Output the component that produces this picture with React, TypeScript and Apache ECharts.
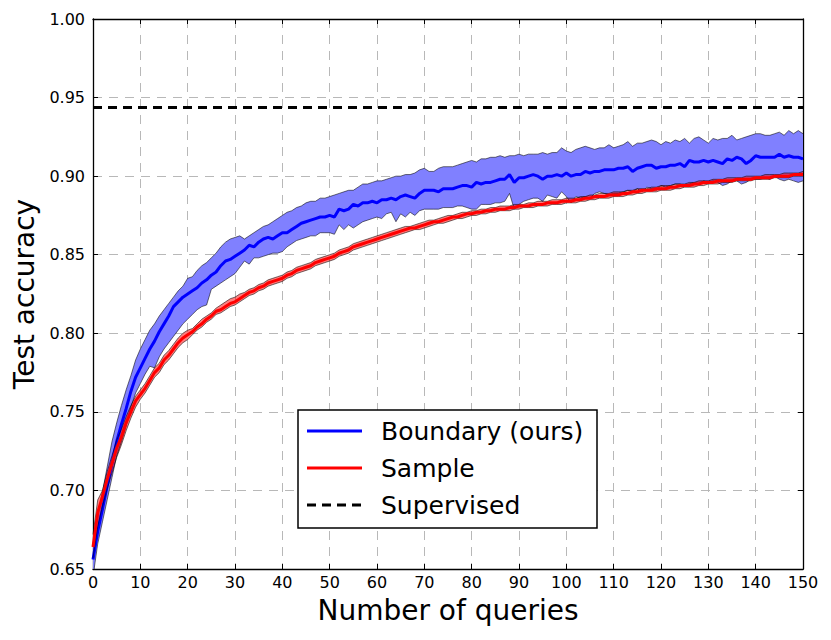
import React, { useEffect, useRef } from "react";
import * as echarts from "echarts";

const queries: number[] = Array.from({ length: 151 }, (_, i) => i);
const yTicks = [0.65, 0.7, 0.75, 0.8, 0.85, 0.9, 0.95, 1.0];
const supervisedAcc = 0.944;

const boundaryMean = [
  0.656, 0.674, 0.688, 0.703, 0.717, 0.731, 0.742, 0.752, 0.763, 0.772,
  0.778, 0.784, 0.790, 0.795, 0.801, 0.806, 0.811, 0.817, 0.820, 0.823,
  0.825, 0.827, 0.829, 0.832, 0.834, 0.837, 0.839, 0.843, 0.846, 0.847,
  0.849, 0.851, 0.853, 0.856, 0.855, 0.858, 0.860, 0.861, 0.860, 0.862,
  0.864, 0.864, 0.866, 0.868, 0.870, 0.871, 0.872, 0.873, 0.874, 0.874,
  0.875, 0.874, 0.879, 0.878, 0.879, 0.882, 0.881, 0.883, 0.883, 0.884,
  0.883, 0.885, 0.885, 0.886, 0.885, 0.887, 0.888, 0.887, 0.886, 0.889,
  0.891, 0.891, 0.891, 0.890, 0.892, 0.892, 0.892, 0.893, 0.894, 0.894,
  0.893, 0.896, 0.895, 0.896, 0.896, 0.897, 0.898, 0.898, 0.901, 0.896,
  0.899, 0.899, 0.900, 0.901, 0.900, 0.898, 0.900, 0.900, 0.901, 0.900,
  0.902, 0.900, 0.901, 0.901, 0.903, 0.902, 0.903, 0.903, 0.904, 0.904,
  0.904, 0.905, 0.905, 0.906, 0.903, 0.905, 0.906, 0.907, 0.907, 0.905,
  0.906, 0.906, 0.907, 0.907, 0.908, 0.906, 0.910, 0.909, 0.909, 0.910,
  0.909, 0.910, 0.909, 0.908, 0.911, 0.910, 0.912, 0.911, 0.908, 0.910,
  0.913, 0.912, 0.912, 0.912, 0.912, 0.914, 0.912, 0.913, 0.912, 0.912,
  0.911,
];

const boundaryUpper = [
  0.666, 0.684, 0.699, 0.715, 0.731, 0.743, 0.754, 0.764, 0.773, 0.783,
  0.790, 0.796, 0.802, 0.806, 0.811, 0.815, 0.819, 0.823, 0.827, 0.830,
  0.835, 0.836, 0.840, 0.843, 0.845, 0.848, 0.851, 0.855, 0.858, 0.860,
  0.861, 0.862, 0.860, 0.862, 0.864, 0.866, 0.868, 0.869, 0.871, 0.873,
  0.875, 0.877, 0.878, 0.880, 0.881, 0.883, 0.884, 0.884, 0.886, 0.886,
  0.887, 0.888, 0.889, 0.890, 0.891, 0.891, 0.893, 0.895, 0.895, 0.896,
  0.897, 0.897, 0.898, 0.899, 0.900, 0.900, 0.901, 0.901, 0.902, 0.904,
  0.905, 0.903, 0.903, 0.905, 0.906, 0.906, 0.906, 0.907, 0.908, 0.909,
  0.910, 0.909, 0.911, 0.911, 0.912, 0.912, 0.913, 0.912, 0.913, 0.913,
  0.914, 0.913, 0.914, 0.914, 0.914, 0.915, 0.914, 0.915, 0.915, 0.918,
  0.916, 0.915, 0.917, 0.918, 0.919, 0.918, 0.917, 0.918, 0.918, 0.920,
  0.918, 0.919, 0.920, 0.922, 0.919, 0.921, 0.921, 0.922, 0.923, 0.922,
  0.920, 0.922, 0.921, 0.923, 0.922, 0.924, 0.921, 0.924, 0.925, 0.923,
  0.921, 0.924, 0.923, 0.924, 0.924, 0.926, 0.923, 0.924, 0.925, 0.926,
  0.927, 0.927, 0.926, 0.926, 0.927, 0.928, 0.926, 0.929, 0.927, 0.929,
  0.927,
];

const boundaryLower = [
  0.645, 0.666, 0.680, 0.694, 0.708, 0.722, 0.731, 0.741, 0.753, 0.762,
  0.768, 0.774, 0.779, 0.778, 0.785, 0.790, 0.794, 0.798, 0.802, 0.806,
  0.809, 0.812, 0.815, 0.817, 0.818, 0.828, 0.830, 0.832, 0.834, 0.836,
  0.838, 0.842, 0.846, 0.844, 0.848, 0.848, 0.849, 0.850, 0.851, 0.851,
  0.852, 0.855, 0.857, 0.859, 0.860, 0.861, 0.862, 0.862, 0.864, 0.864,
  0.864, 0.863, 0.869, 0.866, 0.869, 0.867, 0.869, 0.871, 0.872, 0.873,
  0.874, 0.873, 0.876, 0.877, 0.871, 0.876, 0.874, 0.877, 0.875, 0.878,
  0.879, 0.879, 0.879, 0.879, 0.880, 0.880, 0.880, 0.881, 0.881, 0.880,
  0.879, 0.879, 0.882, 0.882, 0.882, 0.883, 0.883, 0.884, 0.889, 0.879,
  0.882, 0.884, 0.885, 0.886, 0.886, 0.884, 0.888, 0.887, 0.886, 0.890,
  0.887, 0.883, 0.887, 0.886, 0.887, 0.886, 0.889, 0.890, 0.889, 0.888,
  0.889, 0.889, 0.890, 0.891, 0.890, 0.892, 0.890, 0.893, 0.892, 0.891,
  0.894, 0.893, 0.894, 0.895, 0.895, 0.894, 0.895, 0.896, 0.895, 0.897,
  0.896, 0.897, 0.896, 0.894, 0.895, 0.897, 0.897, 0.895, 0.896, 0.898,
  0.898, 0.898, 0.899, 0.898, 0.900, 0.898, 0.897, 0.898, 0.897, 0.896,
  0.897,
];

const sampleMean = [
  0.664, 0.686, 0.696, 0.707, 0.717, 0.727, 0.734, 0.743, 0.750, 0.757,
  0.761, 0.765, 0.770, 0.775, 0.778, 0.783, 0.786, 0.790, 0.794, 0.797,
  0.799, 0.801, 0.804, 0.806, 0.809, 0.811, 0.814, 0.815, 0.817, 0.819,
  0.820, 0.822, 0.824, 0.826, 0.827, 0.829, 0.830, 0.832, 0.833, 0.834,
  0.835, 0.837, 0.838, 0.840, 0.841, 0.842, 0.843, 0.845, 0.846, 0.847,
  0.848, 0.849, 0.851, 0.852, 0.853, 0.855, 0.856, 0.857, 0.858, 0.859,
  0.860, 0.861, 0.862, 0.863, 0.864, 0.865, 0.866, 0.867, 0.867, 0.868,
  0.869, 0.870, 0.871, 0.871, 0.872, 0.873, 0.874, 0.874, 0.875, 0.876,
  0.876, 0.877, 0.877, 0.878, 0.878, 0.879, 0.879, 0.879, 0.880, 0.880,
  0.881, 0.881, 0.881, 0.882, 0.882, 0.882, 0.883, 0.883, 0.883, 0.884,
  0.884, 0.884, 0.885, 0.885, 0.886, 0.886, 0.887, 0.887, 0.887, 0.888,
  0.888, 0.888, 0.889, 0.889, 0.890, 0.890, 0.891, 0.891, 0.891, 0.892,
  0.892, 0.892, 0.893, 0.893, 0.894, 0.894, 0.894, 0.895, 0.895, 0.896,
  0.896, 0.896, 0.897, 0.897, 0.897, 0.897, 0.898, 0.898, 0.898, 0.898,
  0.899, 0.899, 0.899, 0.899, 0.900, 0.900, 0.900, 0.900, 0.901, 0.901,
  0.901,
];

const sampleUpper = [
  0.672, 0.694, 0.700, 0.712, 0.722, 0.732, 0.739, 0.747, 0.754, 0.760,
  0.764, 0.768, 0.773, 0.778, 0.781, 0.786, 0.789, 0.793, 0.797, 0.800,
  0.802, 0.803, 0.806, 0.809, 0.811, 0.813, 0.816, 0.818, 0.820, 0.822,
  0.823, 0.825, 0.826, 0.828, 0.829, 0.831, 0.832, 0.834, 0.835, 0.836,
  0.837, 0.839, 0.840, 0.842, 0.843, 0.844, 0.845, 0.847, 0.848, 0.849,
  0.850, 0.851, 0.853, 0.854, 0.855, 0.857, 0.858, 0.859, 0.860, 0.861,
  0.862, 0.863, 0.864, 0.865, 0.866, 0.867, 0.868, 0.868, 0.869, 0.870,
  0.871, 0.872, 0.872, 0.873, 0.874, 0.875, 0.875, 0.876, 0.877, 0.877,
  0.878, 0.878, 0.879, 0.879, 0.880, 0.880, 0.881, 0.881, 0.881, 0.882,
  0.882, 0.882, 0.883, 0.883, 0.884, 0.884, 0.884, 0.885, 0.885, 0.885,
  0.886, 0.886, 0.886, 0.887, 0.887, 0.888, 0.888, 0.889, 0.889, 0.889,
  0.890, 0.890, 0.890, 0.891, 0.891, 0.892, 0.892, 0.892, 0.893, 0.893,
  0.894, 0.894, 0.894, 0.895, 0.895, 0.895, 0.896, 0.896, 0.897, 0.897,
  0.897, 0.898, 0.898, 0.898, 0.899, 0.899, 0.899, 0.899, 0.900, 0.900,
  0.900, 0.900, 0.901, 0.901, 0.901, 0.901, 0.902, 0.902, 0.902, 0.902,
  0.903,
];

const sampleLower = [
  0.657, 0.677, 0.690, 0.701, 0.711, 0.721, 0.729, 0.738, 0.746, 0.753,
  0.758, 0.762, 0.767, 0.772, 0.775, 0.780, 0.783, 0.787, 0.791, 0.794,
  0.796, 0.799, 0.802, 0.804, 0.807, 0.809, 0.812, 0.813, 0.815, 0.817,
  0.818, 0.820, 0.822, 0.824, 0.825, 0.827, 0.828, 0.830, 0.831, 0.832,
  0.833, 0.835, 0.836, 0.838, 0.839, 0.840, 0.841, 0.843, 0.844, 0.845,
  0.846, 0.847, 0.849, 0.850, 0.851, 0.853, 0.854, 0.855, 0.856, 0.857,
  0.858, 0.859, 0.860, 0.861, 0.862, 0.863, 0.864, 0.865, 0.866, 0.866,
  0.867, 0.868, 0.869, 0.870, 0.870, 0.871, 0.872, 0.873, 0.873, 0.874,
  0.875, 0.875, 0.876, 0.876, 0.877, 0.877, 0.878, 0.878, 0.878, 0.879,
  0.879, 0.880, 0.880, 0.880, 0.881, 0.881, 0.881, 0.882, 0.882, 0.882,
  0.883, 0.883, 0.883, 0.884, 0.884, 0.885, 0.885, 0.886, 0.886, 0.886,
  0.887, 0.887, 0.887, 0.888, 0.888, 0.889, 0.889, 0.890, 0.890, 0.890,
  0.891, 0.891, 0.891, 0.892, 0.892, 0.893, 0.893, 0.893, 0.894, 0.894,
  0.895, 0.895, 0.895, 0.896, 0.896, 0.896, 0.897, 0.897, 0.897, 0.897,
  0.898, 0.898, 0.898, 0.898, 0.899, 0.899, 0.899, 0.899, 0.900, 0.900,
  0.900,
];

const legendItems = [
  { name: "Boundary (ours)", color: "#0000ff", dashed: false },
  { name: "Sample", color: "#ff0000", dashed: false },
  { name: "Supervised", color: "#000000", dashed: true },
];

const FONT = '"DejaVu Sans", "Bitstream Vera Sans", sans-serif';
const categories = queries.map((q) => String(q));

function bandSeries(
  id: string,
  lo: number[],
  hi: number[],
  fill: string
): any[] {
  const hidden = { opacity: 0, width: 0 };
  const edge = { color: "#000000", opacity: 0.55, width: 1 };
  return [
    {
      id: id + "-base",
      type: "line",
      data: lo,
      stack: id,
      symbol: "none",
      silent: true,
      lineStyle: hidden,
    },
    {
      id: id + "-fill",
      type: "line",
      data: hi.map((h, i) => h - lo[i]),
      stack: id,
      symbol: "none",
      silent: true,
      lineStyle: hidden,
      areaStyle: { color: fill, opacity: 1 },
    },
    {
      id: id + "-hi",
      type: "line",
      data: hi,
      symbol: "none",
      silent: true,
      lineStyle: edge,
    },
    {
      id: id + "-lo",
      type: "line",
      data: lo,
      symbol: "none",
      silent: true,
      lineStyle: edge,
    },
  ];
}

export default function App() {
  const ref = useRef<HTMLDivElement>(null);

  useEffect(() => {
    if (!ref.current) return;
    const chart = echarts.init(ref.current, undefined, { renderer: "svg" });

    const gridLine = {
      show: true,
      lineStyle: { color: "#b8b8b8", type: [9, 7], width: 1 },
    };
    const axisLine = { show: true, lineStyle: { color: "#000", width: 1.3 } };
    const tick = {
      show: true,
      inside: true,
      length: 5,
      lineStyle: { color: "#000", width: 1 },
    };
    const xTick = { ...tick, interval: 9 };
    const xGrid = { ...gridLine, interval: 9 };

    const legendX = 298;
    const legendY = 410;
    const rowY = [431, 468, 505];
    const legendGraphics: any[] = [
      {
        type: "rect",
        shape: { x: legendX, y: legendY, width: 299, height: 118 },
        style: { fill: "#ffffff", stroke: "#000000", lineWidth: 1.5 },
        z: 100,
      },
    ];
    legendItems.forEach((it, i) => {
      legendGraphics.push({
        type: "line",
        shape: { x1: 307, y1: rowY[i], x2: 362, y2: rowY[i] },
        style: {
          stroke: it.color,
          lineWidth: 3,
          lineDash: it.dashed ? [9, 6] : null,
        },
        z: 101,
      });
      legendGraphics.push({
        type: "text",
        x: 381,
        y: rowY[i],
        style: {
          text: it.name,
          fill: "#000",
          fontSize: 25,
          fontFamily: FONT,
          verticalAlign: "middle",
          align: "left",
        },
        z: 101,
      });
    });

    const option: any = {
      animation: false,
      backgroundColor: "#ffffff",
      grid: { left: 93, right: 28, top: 19, bottom: 71, containLabel: false },
      xAxis: [
        {
          type: "category",
          data: categories,
          boundaryGap: false,
          position: "bottom",
          axisLine,
          axisTick: xTick,
          splitLine: xGrid,
          axisLabel: {
            interval: 9,
            color: "#000",
            fontSize: 16,
            fontFamily: FONT,
            margin: 5,
          },
          name: "Number of queries",
          nameLocation: "middle",
          nameGap: 27,
          nameTextStyle: { color: "#000", fontSize: 28, fontFamily: FONT },
        },
        {
          type: "category",
          data: categories,
          boundaryGap: false,
          position: "top",
          axisLine,
          axisTick: xTick,
          splitLine: { show: false },
          axisLabel: { show: false },
        },
      ],
      yAxis: [
        {
          type: "value",
          min: yTicks[0],
          max: yTicks[yTicks.length - 1],
          interval: 0.05,
          position: "left",
          axisLine,
          axisTick: tick,
          splitLine: gridLine,
          axisLabel: {
            color: "#000",
            fontSize: 16,
            fontFamily: FONT,
            margin: 8,
            formatter: (v: number) => v.toFixed(2),
          },
          name: "Test accuracy",
          nameLocation: "middle",
          nameGap: 50,
          nameTextStyle: { color: "#000", fontSize: 28, fontFamily: FONT },
        },
        {
          type: "value",
          min: yTicks[0],
          max: yTicks[yTicks.length - 1],
          interval: 0.05,
          position: "right",
          axisLine,
          axisTick: tick,
          splitLine: { show: false },
          axisLabel: { show: false },
        },
      ],
      series: [
        ...bandSeries("boundary", boundaryLower, boundaryUpper, "#8080ff"),
        {
          name: "Boundary (ours)",
          type: "line",
          data: boundaryMean,
          symbol: "none",
          lineStyle: { color: "#0000ff", width: 3 },
          itemStyle: { color: "#0000ff" },
        },
        ...bandSeries("sample", sampleLower, sampleUpper, "rgba(255,0,0,0.5)"),
        {
          name: "Sample",
          type: "line",
          data: sampleMean,
          symbol: "none",
          lineStyle: { color: "#ff0000", width: 3 },
          itemStyle: { color: "#ff0000" },
          markLine: {
            silent: true,
            symbol: "none",
            precision: 4,
            label: { show: false },
            data: [{ name: "Supervised", yAxis: supervisedAcc }],
            lineStyle: { color: "#000000", width: 3, type: [9, 6] },
          },
        },
      ],
      graphic: legendGraphics,
    };

    chart.setOption(option);
    return () => chart.dispose();
  }, []);

  return (
    <div
      ref={ref}
      style={{
        position: "absolute",
        left: 0,
        top: 0,
        width: 831,
        height: 640,
        background: "#fff",
      }}
    />
  );
}
